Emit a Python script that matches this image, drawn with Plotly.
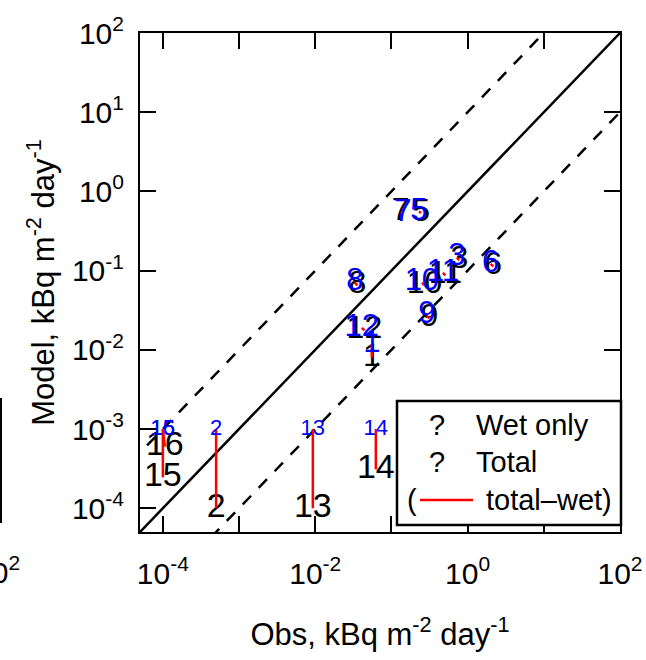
import plotly.graph_objects as go

# ---- data ----
stations = ["1", "2", "3", "5", "6", "7", "8", "9", "10", "11", "12", "13", "14", "15", "16"]
obs_wet = [0.0553, 5.0e-4, 0.72, 0.229, 2.01, 0.141, 0.0331, 0.292, 0.251, 0.473, 0.0409, 0.0093, 0.0624, 1.0e-4, 1.0e-4]
model_wet = [0.0117, 1.0e-3, 0.146, 0.553, 0.122, 0.537, 0.0703, 0.0270, 0.0703, 0.094, 0.0190, 1.0e-3, 1.0e-3, 1.0e-3, 1.0e-3]
obs_total = [0.0553, 5.0e-4, 0.78, 0.245, 2.17, 0.132, 0.0358, 0.315, 0.272, 0.51, 0.0442, 0.0093, 0.0624, 1.0e-4, 1.06e-4]
model_total = [0.0080, 1.0e-4, 0.136, 0.54, 0.113, 0.55, 0.0650, 0.0250, 0.0650, 0.087, 0.0176, 1.0e-4, 3.1e-4, 2.45e-4, 6.0e-4]
wet_floor = 1.0e-3

tick_vals = [1e-4, 1e-3, 1e-2, 1e-1, 1e0, 1e1, 1e2]
x_tick_text = ["10<sup>-4</sup>", "", "10<sup>-2</sup>", "", "10<sup>0</sup>", "", "10<sup>2</sup>"]
y_tick_text = ["10<sup>-4</sup>", "10<sup>-3</sup>", "10<sup>-2</sup>", "10<sup>-1</sup>",
               "10<sup>0</sup>", "10<sup>1</sup>", "10<sup>2</sup>"]
axis_range = [-4.3, 2.0]

FONT = "Arial, Liberation Sans, sans-serif"
W, H = 646, 660
L, R, T, B = 140, 26, 33, 128
PW, PH = W - L - R, H - T - B


def px(xpix):
    return (xpix - L) / PW


def py(ypix):
    return (H - B - ypix) / PH


fig = go.Figure()

# reference lines 1:1 and factor 10
ref_x = [10 ** (axis_range[0] - 2), 10 ** (axis_range[1] + 2)]
fig.add_trace(go.Scatter(x=ref_x, y=[v * 10 for v in ref_x], mode="lines",
                         line=dict(color="black", width=2.5, dash="12px,11px"),
                         showlegend=False, hoverinfo="skip"))
fig.add_trace(go.Scatter(x=ref_x, y=[v / 10 for v in ref_x], mode="lines",
                         line=dict(color="black", width=2.5, dash="12px,11px"),
                         showlegend=False, hoverinfo="skip"))
fig.add_trace(go.Scatter(x=ref_x, y=ref_x, mode="lines",
                         line=dict(color="black", width=2.5),
                         showlegend=False, hoverinfo="skip"))

# total labels (black)
tot_sizes = [34 if m <= wet_floor else 32 for m in model_wet]
fig.add_trace(go.Scatter(x=obs_total, y=model_total, mode="text", text=stations,
                         textposition="middle center",
                         textfont=dict(family=FONT, size=tot_sizes, color="black"),
                         cliponaxis=False, showlegend=False))

# red connectors total-wet
lx, ly = [], []
for ow, mw, ot, mt in zip(obs_wet, model_wet, obs_total, model_total):
    lx += [ow, ot, None]
    ly += [mw, mt, None]
fig.add_trace(go.Scatter(x=lx, y=ly, mode="lines", line=dict(color="red", width=2.5),
                         showlegend=False, hoverinfo="skip"))

# wet labels (blue)
wet_sizes = [22 if m <= wet_floor else 31 for m in model_wet]
fig.add_trace(go.Scatter(x=obs_wet, y=model_wet, mode="text", text=stations,
                         textposition="middle center",
                         textfont=dict(family=FONT, size=wet_sizes, color="#0000FF"),
                         cliponaxis=False, showlegend=False))

axis_common = dict(type="log", range=axis_range, tickvals=tick_vals,
                   ticks="inside", ticklen=16, tickwidth=1.5, tickcolor="black",
                   showline=True, linecolor="black", linewidth=2, mirror="allticks",
                   showgrid=False, zeroline=False,
                   tickfont=dict(family=FONT, size=30, color="black"))

fig.update_xaxes(**axis_common, ticktext=x_tick_text, ticklabelstandoff=14,
                 title=dict(text="Obs, kBq m<sup>-2</sup> day<sup>-1</sup>",
                            font=dict(family=FONT, size=31, color="black"), standoff=34))
fig.update_yaxes(**axis_common, ticktext=y_tick_text, ticklabelstandoff=8,
                 title=dict(text="Model, kBq m<sup>-2</sup> day<sup>-1</sup>",
                            font=dict(family=FONT, size=31, color="black"), standoff=8))

shapes = [
    dict(type="rect", xref="paper", yref="paper", x0=px(397), x1=px(621), y0=py(525), y1=py(401),
         line=dict(color="black", width=2.5), fillcolor="white", layer="above"),
    dict(type="line", xref="paper", yref="paper", x0=px(420), x1=px(473), y0=py(500), y1=py(500),
         line=dict(color="red", width=2.5), layer="above"),
    # remnant of neighbouring panel
    dict(type="line", xref="paper", yref="paper", x0=px(1), x1=px(1), y0=py(523), y1=py(398),
         line=dict(color="black", width=2)),
]

leg_font = dict(family=FONT, size=29, color="black")
annotations = [
    dict(text="?", x=px(437), y=py(425), xanchor="center", yanchor="middle"),
    dict(text="Wet only", x=px(474), y=py(425), xanchor="left", yanchor="middle"),
    dict(text="?", x=px(437), y=py(462), xanchor="center", yanchor="middle"),
    dict(text="Total", x=px(474), y=py(462), xanchor="left", yanchor="middle"),
    dict(text="(", x=px(405), y=py(500), xanchor="left", yanchor="middle"),
    dict(text="total\u2013wet)", x=px(484), y=py(500), xanchor="left", yanchor="middle"),
    dict(text="10<sup>2</sup>", x=px(22), y=py(570), xanchor="right", yanchor="middle",
         font=dict(family=FONT, size=30, color="black")),
]
for a in annotations:
    a.setdefault("font", leg_font)
    a.update(xref="paper", yref="paper", showarrow=False)

fig.update_layout(width=W, height=H, margin=dict(l=L, r=R, t=T, b=B, autoexpand=False),
                  plot_bgcolor="white", paper_bgcolor="white",
                  shapes=shapes, annotations=annotations, showlegend=False)

fig.write_html("out.html")
